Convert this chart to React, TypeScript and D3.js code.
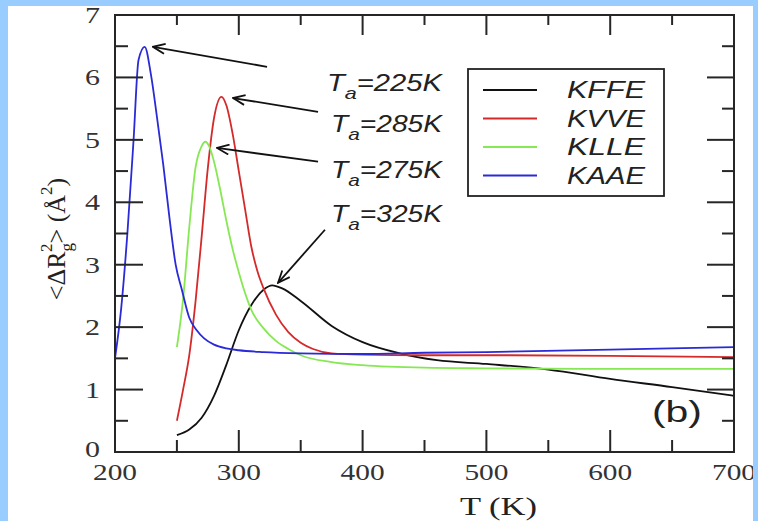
import React from "react";
import * as d3 from "d3";

// KFFE
const kffeT = [250, 260, 270, 280, 290, 300, 310, 320, 327, 335, 350, 375, 400, 430, 460, 500, 550, 600, 650, 700];
const kffeY = [0.27, 0.36, 0.55, 0.9, 1.4, 1.95, 2.35, 2.6, 2.67, 2.62, 2.42, 2.02, 1.76, 1.58, 1.47, 1.41, 1.32, 1.17, 1.04, 0.9];
// KVVE
const kvveT = [250, 255, 260, 265, 270, 275, 280, 286, 290, 295, 300, 305, 310, 315, 320, 330, 340, 350, 360, 375, 400, 450, 500, 600, 700];
const kvveY = [0.5, 1.0, 1.55, 2.4, 3.45, 4.55, 5.35, 5.69, 5.55, 5.1, 4.5, 3.9, 3.3, 2.9, 2.62, 2.2, 1.92, 1.75, 1.65, 1.58, 1.56, 1.55, 1.55, 1.54, 1.52];
// KLLE
const klleT = [250, 255, 260, 265, 270, 273, 276, 280, 285, 290, 295, 300, 305, 310, 320, 330, 340, 350, 375, 400, 450, 500, 600, 700];
const klleY = [1.68, 2.45, 3.6, 4.55, 4.9, 4.97, 4.9, 4.65, 4.2, 3.7, 3.25, 2.88, 2.55, 2.28, 1.98, 1.78, 1.65, 1.55, 1.44, 1.39, 1.35, 1.34, 1.33, 1.33];
// KAAE
const kaaeT = [200, 205, 210, 215, 219, 224, 229, 234, 239, 244, 249, 254, 260, 266, 272, 280, 290, 300, 320, 350, 400, 450, 500, 600, 700];
const kaaeY = [1.5, 2.3, 3.5, 5.0, 6.28, 6.49, 6.05, 5.35, 4.6, 3.75, 3.0, 2.6, 2.15, 1.95, 1.82, 1.72, 1.66, 1.63, 1.6, 1.58, 1.57, 1.59, 1.6, 1.64, 1.68];

const seriesNames = ["KFFE", "KVVE", "KLLE", "KAAE"];
const seriesColors = ["#111111", "#d42a2a", "#86e852", "#2a2ad6"];
const xTicks = [200, 300, 400, 500, 600, 700];
const yTicks = [0, 1, 2, 3, 4, 5, 6, 7];

// annotation: label, text anchor (T, y), arrow from (T, y) -> to (T, y)
const annLabels = ["225K", "285K", "275K", "325K"];
const annText = [[371.2, 5.78], [374.5, 5.13], [374.5, 4.39], [374.5, 3.68]];
const annFrom = [[322.8, 6.17], [364, 5.45], [364, 4.65], [369.6, 3.56]];
const annTo = [[230.7, 6.49], [295.3, 5.67], [282.4, 4.87], [331.7, 2.71]];

const W = 758, H = 521;
const plot = { left: 115, right: 734, top: 15, bottom: 452 };

export default function App() {
  const x = d3.scaleLinear().domain([200, 700]).range([plot.left, plot.right]);
  const y = d3.scaleLinear().domain([0, 7]).range([plot.bottom, plot.top]);

  const series = [
    [kffeT, kffeY],
    [kvveT, kvveY],
    [klleT, klleY],
    [kaaeT, kaaeY],
  ];
  const line = d3.line<[number, number]>()
    .x((d) => x(d[0]))
    .y((d) => y(d[1]))
    .curve(d3.curveMonotoneX);

  const xMinor = d3.range(250, 700, 100);
  const yMinor = d3.range(0.5, 7, 1);
  const axisColor = "#262626";

  return (
    <svg width={W} height={H} style={{ position: "absolute", left: 0, top: 0 }}>
      <defs>
        <marker id="arr" viewBox="0 0 14 12" refX="13" refY="6" markerWidth="14" markerHeight="12"
          markerUnits="userSpaceOnUse" orient="auto">
          <path d="M1,1 L13,6 L1,11" fill="none" stroke="#111" strokeWidth="1.8" />
        </marker>
        <clipPath id="plotclip">
          <rect x={plot.left} y={plot.top} width={plot.right - plot.left} height={plot.bottom - plot.top} />
        </clipPath>
      </defs>
      <rect x={0} y={0} width={W} height={H} fill="#99ccff" />
      <rect x={8} y={6} width={745} height={H - 6} fill="#ffffff" />

      {/* curves */}
      <g clipPath="url(#plotclip)">
        {series.map(([ts, ys], i) => (
          <path key={i} d={line(ts.map((t, k) => [t, ys[k]]) as [number, number][]) || ""}
            fill="none" stroke={seriesColors[i]} strokeWidth={1.8} />
        ))}
      </g>

      {/* frame */}
      <rect x={plot.left} y={plot.top} width={plot.right - plot.left} height={plot.bottom - plot.top}
        fill="none" stroke={axisColor} strokeWidth={2} />

      {/* ticks */}
      <g stroke={axisColor} strokeWidth={2}>
        {xTicks.map((t) => (
          <g key={t}>
            <line x1={x(t)} x2={x(t)} y1={plot.bottom} y2={plot.bottom - 22} />
            <line x1={x(t)} x2={x(t)} y1={plot.top} y2={plot.top + 20} />
          </g>
        ))}
        {xMinor.map((t) => (
          <g key={t}>
            <line x1={x(t)} x2={x(t)} y1={plot.bottom} y2={plot.bottom - 12} />
            <line x1={x(t)} x2={x(t)} y1={plot.top} y2={plot.top + 10} />
          </g>
        ))}
        {yTicks.map((v) => (
          <g key={v}>
            <line x1={plot.left} x2={plot.left + 28} y1={y(v)} y2={y(v)} />
            <line x1={plot.right} x2={plot.right - 27} y1={y(v)} y2={y(v)} />
          </g>
        ))}
        {yMinor.map((v) => (
          <g key={v}>
            <line x1={plot.left} x2={plot.left + 13} y1={y(v)} y2={y(v)} />
            <line x1={plot.right} x2={plot.right - 12} y1={y(v)} y2={y(v)} />
          </g>
        ))}
      </g>

      {/* tick labels */}
      <g fontFamily="'Liberation Serif', 'Times New Roman', serif" fontSize={24} fill="#333">
        {xTicks.map((t) => (
          <text key={t} x={x(t) - 22} y={480} textLength={44} lengthAdjust="spacingAndGlyphs">{t}</text>
        ))}
        {yTicks.map((v) => (
          <text key={v} x={100} y={y(v) + (v === 0 ? 5 : 8)} textAnchor="end"
            textLength={15} lengthAdjust="spacingAndGlyphs">{v}</text>
        ))}
      </g>

      {/* axis titles */}
      <text x={460} y={515} fontFamily="'Liberation Serif', serif" fontSize={26} fill="#222"
        textLength={77} lengthAdjust="spacingAndGlyphs">T (K)</text>
      <text transform="translate(65,239) rotate(-90)" textAnchor="middle"
        fontFamily="'Liberation Serif', serif" fontSize={26} fill="#222">
        {"<ΔR"}
        <tspan fontSize={17} dy={7}>g</tspan>
        <tspan fontSize={17} dx={-9} dy={-20}>2</tspan>
        <tspan dy={13}>{"> (Å"}</tspan>
        <tspan fontSize={17} dy={-13}>2</tspan>
        <tspan dy={13}>)</tspan>
      </text>

      {/* annotations */}
      <g fontFamily="'Liberation Sans', Arial, sans-serif" fontStyle="italic" fontSize={23} fill="#222">
        {annLabels.map((lab, i) => (
          <text key={lab} x={x(annText[i][0])} y={y(annText[i][1])}
            textLength={i === 0 ? 115 : 111} lengthAdjust="spacingAndGlyphs">
            T<tspan fontSize={17} dy={8}>a</tspan><tspan dy={-8}>{"=" + lab}</tspan>
          </text>
        ))}
      </g>
      <g stroke="#111" strokeWidth={1.8}>
        {annFrom.map((f, i) => (
          <line key={i} x1={x(f[0])} y1={y(f[1])} x2={x(annTo[i][0])} y2={y(annTo[i][1])}
            markerEnd="url(#arr)" />
        ))}
      </g>

      {/* legend */}
      <rect x={468} y={69} width={196} height={127} fill="#fff" stroke="#222" strokeWidth={1.8} />
      {seriesNames.map((name, i) => (
        <g key={name}>
          <line x1={483} x2={537} y1={90 + i * 28.5} y2={90 + i * 28.5} stroke={seriesColors[i]} strokeWidth={1.8} />
          <text x={567} y={98 + i * 28.5} fontFamily="'Liberation Sans', Arial, sans-serif" fontStyle="italic"
            fontSize={24} fill="#222" textLength={78} lengthAdjust="spacingAndGlyphs">{name}</text>
        </g>
      ))}

      {/* panel label */}
      <text x={652} y={422} fontFamily="'Liberation Sans', Arial, sans-serif" fontSize={30} fill="#222"
        textLength={50} lengthAdjust="spacingAndGlyphs">(b)</text>

      {/* right border strip */}
      <rect x={753} y={0} width={5} height={H} fill="#99ccff" />
    </svg>
  );
}
